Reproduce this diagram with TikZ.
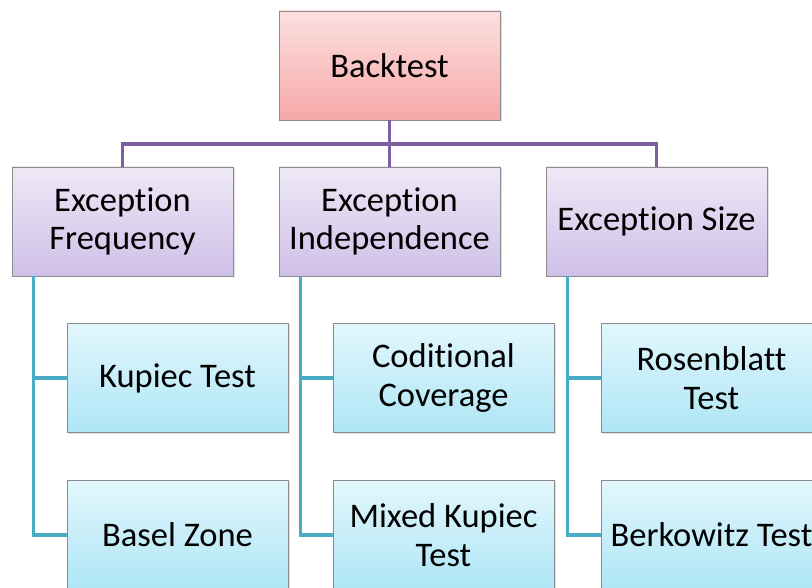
\documentclass[tikz,border=0pt]{standalone}
\usepackage{fontspec}
\setmainfont[Ligatures=NoCommon]{Carlito}
\usetikzlibrary{shadows}
\definecolor{pinkT}{HTML}{FDE0E0}
\definecolor{pinkB}{HTML}{F6A8A8}
\definecolor{purT}{HTML}{EEE8F6}
\definecolor{purB}{HTML}{CFC0E8}
\definecolor{bluT}{HTML}{E2F6FC}
\definecolor{bluB}{HTML}{AEE6F6}
\definecolor{purLine}{HTML}{7E60A2}
\definecolor{tealLine}{HTML}{48ACC4}
\definecolor{boxBorder}{HTML}{8C8C8C}
\tikzset{
  box/.style={draw=boxBorder, line width=0.9pt, minimum width=221pt, minimum height=109pt,
    inner sep=2pt, align=center, text=black,
    font=\fontsize{34.5}{38.5}\selectfont,
    drop shadow={opacity=0.25, shadow xshift=1.5pt, shadow yshift=-1.5pt}},
  rootbox/.style={box, top color=pinkT, bottom color=pinkB},
  midbox/.style={box, top color=purT, bottom color=purB},
  leafbox/.style={box, top color=bluT, bottom color=bluB},
  purconn/.style={draw=purLine, line width=3.6pt},
  tealconn/.style={draw=tealLine, line width=3.6pt},
}
\begin{document}
\begin{tikzpicture}[x=1pt,y=-1pt]
\useasboundingbox (0,0) rectangle (812,588);
\clip (0,0) rectangle (812,588);
\fill[white] (0,0) rectangle (812,588);
% root
\node[rootbox] (bt) at (389.5,65.5) {Backtest};
% middle
\node[midbox] (ef) at (122.5,221.5) {Exception\\Frequency};
\node[midbox] (ei) at (389.5,221.5) {Exception\\Independence};
\node[midbox] (es) at (656.5,221.5) {Exception Size};
% leaves
\node[leafbox] (kt) at (177.5,378) {Kupiec Test};
\node[leafbox] (bz) at (177.5,535) {Basel Zone};
\node[leafbox] (cc) at (443.5,378) {Coditional\\Coverage};
\node[leafbox] (mk) at (443.5,535) {Mixed Kupiec\\Test};
\node[leafbox] (rt) at (711.5,378) {Rosenblatt\\Test};
\node[leafbox] (bk) at (711.5,535) {Berkowitz Test};
% purple connectors
\coordinate (bus) at (389.5,144);
\path[purconn] (bt.south) -- (bus);
\path[purconn] (bus) -| (ef.north);
\path[purconn] (bus) -- (ei.north);
\path[purconn] (bus) -| (es.north);
% teal connectors
\coordinate (ft) at ([xshift=22pt]ef.south west);
\coordinate (it) at ([xshift=22pt]ei.south west);
\coordinate (st) at ([xshift=22pt]es.south west);
\path[tealconn] (ft) |- (kt.west);
\path[tealconn] (ft) |- (bz.west);
\path[tealconn] (it) |- (cc.west);
\path[tealconn] (it) |- (mk.west);
\path[tealconn] (st) |- (rt.west);
\path[tealconn] (st) |- (bk.west);
\end{tikzpicture}
\end{document}
